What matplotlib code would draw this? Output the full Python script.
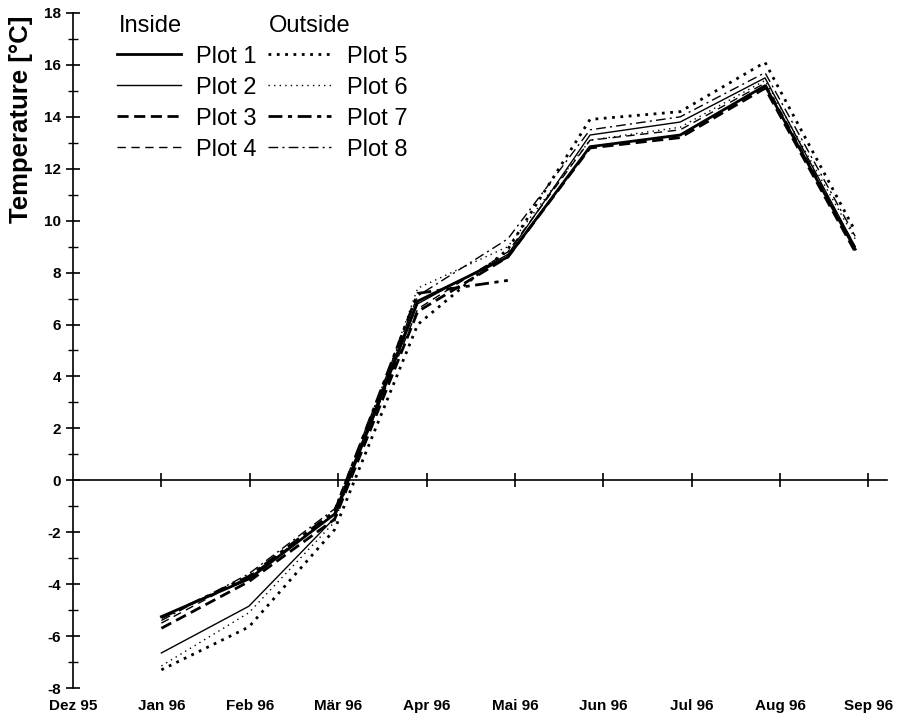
import numpy as np
import matplotlib.pyplot as plt

plt.rcParams['font.family'] = ['Liberation Sans', 'DejaVu Sans']
plt.rcParams['axes.unicode_minus'] = False

# months after Dez 95 (measurement dates)
x_dates = [1.0, 1.99, 2.96, 3.9, 4.92, 5.85, 6.87, 7.83, 8.85]
month_labels = ["Dez 95", "Jan 96", "Feb 96", "Mär 96", "Apr 96", "Mai 96",
                "Jun 96", "Jul 96", "Aug 96", "Sep 96"]

plot1 = [-5.25, -3.8, -1.3, 6.9, 8.6, 12.85, 13.3, 15.2, 8.9]
plot2 = [-6.65, -4.85, -1.45, 6.8, 8.7, 13.3, 13.8, 15.5, 9.0]
plot3 = [-5.7, -3.9, -1.5, 6.5, 8.6, 12.8, 13.2, 15.1, 8.8]
plot4 = [-5.5, -3.7, -1.3, 6.6, 8.8, 13.1, 13.5, 15.3, 9.0]
plot5 = [-7.3, -5.65, -1.9, 6.0, 8.9, 13.9, 14.2, 16.1, 9.6]
plot6 = [-7.15, -5.1, -1.6, 7.4, 9.0, 13.1, 13.6, 15.4, 9.3]
plot7 = [-5.3, -3.7, -1.2, 7.2, 7.7, np.nan, np.nan, np.nan, np.nan]
plot8 = [-5.4, -3.6, -1.1, 7.1, 9.3, 13.5, 14.0, 15.7, 9.4]

series = [plot1, plot2, plot3, plot4, plot5, plot6, plot7, plot8]
names = ["Plot %d" % i for i in range(1, 9)]
thick, thin = 2.0, 1.0
styles = [("-", thick), ("-", thin), ((0, (4, 2)), thick), ((0, (6, 4)), thin),
          ((0, (1, 2)), thick), ((0, (1, 3)), thin),
          ((0, (5, 2, 1.5, 2)), thick), ((0, (7, 3, 1.5, 3)), thin)]

fig = plt.figure(figsize=(9.04, 7.22), dpi=100)
ax = fig.add_axes([73 / 904, 1 - 688 / 722, (887 - 73) / 904, (688 - 13) / 722])

for vals, name, (ls, lw) in zip(series, names, styles):
    ax.plot(x_dates, vals, color="black", linestyle=ls, linewidth=lw, label=name)

ax.set_xlim(0, 9.21)
ax.set_ylim(-8, 18)

ax.spines['bottom'].set_position(('data', 0))
ax.spines['top'].set_visible(False)
ax.spines['right'].set_visible(False)
ax.spines['left'].set_linewidth(1.2)
ax.spines['bottom'].set_linewidth(1.2)

ax.set_xticks(range(1, 10))
ax.tick_params(axis='x', direction='inout', length=10, width=1.2, labelbottom=False)
ax.set_yticks(range(-8, 19, 2))
ax.set_yticks(range(-7, 18, 2), minor=True)
ax.tick_params(axis='y', which='major', direction='inout', length=10, width=1.2,
               labelsize=11)
ax.tick_params(axis='y', which='minor', direction='inout', length=7, width=1.0)
for lab in ax.get_yticklabels():
    lab.set_fontweight('bold')

sec = ax.secondary_xaxis(-0.0)
sec.set_xticks(range(0, 10))
sec.set_xticklabels(month_labels, fontweight='bold', fontsize=11)
sec.tick_params(length=0, pad=8)
sec.spines['bottom'].set_visible(False)

ax.set_ylabel("Temperature [°C]", fontsize=18.5, fontweight='bold')
ax.yaxis.set_label_coords(-0.049, 0.843)

leg = ax.legend(ncol=2, loc='upper left', bbox_to_anchor=(0.040, 0.969),
                frameon=False, fontsize=17, handlelength=2.7, handletextpad=0.65,
                columnspacing=0.45, labelspacing=0.38, borderpad=0)
ax.text(0.056, 0.997, "Inside", transform=ax.transAxes, fontsize=17, va='top')
ax.text(0.241, 0.997, "Outside", transform=ax.transAxes, fontsize=17, va='top')

fig.savefig("out.png", dpi=100)
